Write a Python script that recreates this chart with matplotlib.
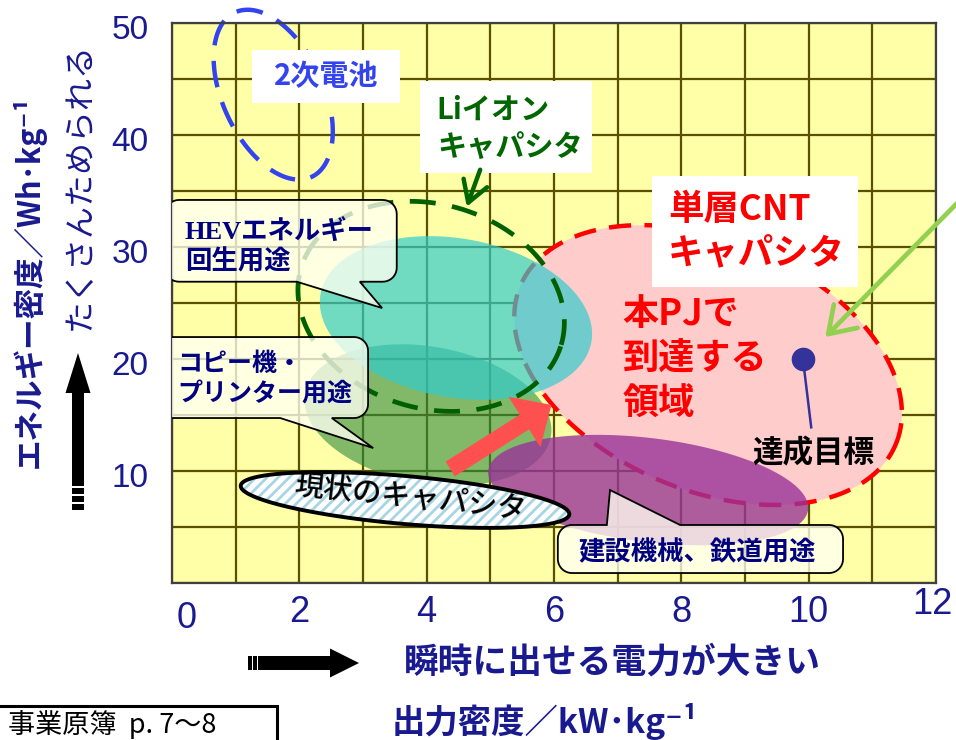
import numpy as np
import matplotlib
matplotlib.use("Agg")
import matplotlib.pyplot as plt
from matplotlib.patches import Polygon, Rectangle, FancyArrowPatch
from matplotlib.transforms import Affine2D, ScaledTranslation

plt.rcParams['font.family'] = ['Noto Sans CJK JP', 'DejaVu Sans']
plt.rcParams['hatch.linewidth'] = 2.0

# ---------------- data ----------------
x_ticks = [0, 2, 4, 6, 8, 10, 12]
x_tick_labels = ['0', '2', '4', '6', '8', '10', '12']
y_ticks = [10, 20, 30, 40, 50]
y_tick_labels = ['10', '20', '30', '40', '50']

# regions: centre (power density, energy density), half-extents, visual tilt (deg)
battery = dict(cx=1.59, cy=43.6, rx=0.79, ry=8.1, tilt=25)
li_ion = dict(cx=4.07, cy=24.7, rx=2.13, ry=9.1, tilt=-16.5)
hev = dict(cx=4.46, cy=23.66, rx=2.16, ry=7.1, tilt=-10)
copier = dict(cx=4.02, cy=15.0, rx=1.96, ry=6.1, tilt=-10)
construction = dict(cx=7.48, cy=8.3, rx=2.53, ry=4.64, tilt=-7)
cnt = dict(cx=8.42, cy=19.46, rx=3.2, ry=11.16, tilt=-23)
current = dict(cx=3.66, cy=7.41, rx=2.59, ry=2.14, tilt=-5)

target_x = [9.91]
target_y = [20.0]

NAVY = '#1A1A90'

fig = plt.figure(figsize=(9.56, 7.40), dpi=100)
W, H = 956, 740
ax = fig.add_axes([172 / W, 1 - 583 / H, (936 - 172) / W, (583 - 23) / H])
ax.set_xlim(0, 12)
ax.set_ylim(0, 50)
ax.set_facecolor('#FFFFA8')

ax.set_xticks(x_ticks)
ax.set_xticklabels(x_tick_labels)
ax.set_xticks(np.arange(0, 13, 1), minor=True)
ax.set_yticks(y_ticks)
ax.set_yticklabels(y_tick_labels)
ax.set_yticks(np.arange(0, 51, 5), minor=True)
ax.grid(True, which='both', color='#5A5000', lw=1.6, zorder=0.5)
ax.set_axisbelow(True)
ax.tick_params(which='both', length=0)
ax.tick_params(axis='y', pad=17, labelsize=24, labelcolor=NAVY)
ax.tick_params(axis='x', pad=9, labelsize=26, labelcolor=NAVY)
for lab in ax.get_yticklabels():
    lab.set_family(['Liberation Sans', 'DejaVu Sans'])
    lab.set_transform(lab.get_transform() + ScaledTranslation(0, -4 / 100, fig.dpi_scale_trans))
for lab in ax.get_xticklabels():
    lab.set_family(['Liberation Sans Narrow', 'Liberation Sans', 'DejaVu Sans'])
xl = ax.get_xticklabels()
xl[0].set_transform(xl[0].get_transform() + ScaledTranslation(15 / 100, -5 / 100, fig.dpi_scale_trans))
xl[-1].set_transform(xl[-1].get_transform() + ScaledTranslation(-4 / 100, 8 / 100, fig.dpi_scale_trans))
for s in ax.spines.values():
    s.set_color('#404040')
    s.set_linewidth(1.6)


def ellipse_pts(r, n=300):
    t = np.linspace(0, 2 * np.pi, n)
    c = ax.transData.transform((r['cx'], r['cy']))
    sx = ax.transData.transform((r['cx'] + 1, r['cy']))[0] - c[0]
    sy = ax.transData.transform((r['cx'], r['cy'] + 1))[1] - c[1]
    u = r['rx'] * sx * np.cos(t)
    v = r['ry'] * sy * np.sin(t)
    a = np.radians(r['tilt'])
    X = c[0] + u * np.cos(a) - v * np.sin(a)
    Y = c[1] + u * np.sin(a) + v * np.cos(a)
    return ax.transData.inverted().transform(np.column_stack([X, Y]))


def callout(x0, x1, y0, y1, tail, side, rad=14, z=6):
    (X0, Y0) = ax.transData.transform((x0, y0))
    (X1, Y1) = ax.transData.transform((x1, y1))
    ta = ax.transData.transform((tail[0], y0 if side == 'bottom' else y1))[0]
    tb = ax.transData.transform((tail[1], y0 if side == 'bottom' else y1))[0]
    tip = ax.transData.transform((tail[2], tail[3]))
    pts = []

    def arc(cx, cy, a0, a1):
        for a in np.linspace(np.radians(a0), np.radians(a1), 10):
            pts.append((cx + rad * np.cos(a), cy + rad * np.sin(a)))
    arc(X0 + rad, Y0 + rad, 180, 270)
    if side == 'bottom':
        pts += [(ta, Y0), (tip[0], tip[1]), (tb, Y0)]
    arc(X1 - rad, Y0 + rad, 270, 360)
    arc(X1 - rad, Y1 - rad, 0, 90)
    if side == 'top':
        pts += [(tb, Y1), (tip[0], tip[1]), (ta, Y1)]
    arc(X0 + rad, Y1 - rad, 90, 180)
    d = ax.transData.inverted().transform(np.array(pts))
    ax.add_patch(Polygon(d, closed=True, facecolor=(1, 1, 0.95, 0.78),
                         edgecolor='black', lw=1.3, zorder=z))


# ---------------- regions ----------------
p = ellipse_pts(cnt)
ax.add_patch(Polygon(p, closed=True, facecolor='#FFCCCC', edgecolor='none', zorder=1))
ax.add_patch(Polygon(p, closed=True, fill=False, edgecolor='#FF0000', lw=3.2,
                     ls=(0, (5, 3)), zorder=1.1))

ax.add_patch(Polygon(ellipse_pts(copier), closed=True, facecolor='#2E8B3E', alpha=0.6,
                     edgecolor='none', zorder=1.2))
ax.add_patch(Polygon(ellipse_pts(hev), closed=True, facecolor='#33CCCC', alpha=0.7,
                     edgecolor='none', zorder=1.3))
ax.add_patch(Polygon(ellipse_pts(construction), closed=True, facecolor='#993399', alpha=0.8,
                     edgecolor='none', zorder=1.4))
ax.add_patch(Polygon(ellipse_pts(li_ion), closed=True, fill=False, edgecolor='#006000', lw=3.4,
                     ls=(0, (5.5, 3.5)), zorder=1.6))
ax.add_patch(Polygon(ellipse_pts(battery), closed=True, fill=False, edgecolor='#3344EE', lw=3.2,
                     ls=(0, (6, 3.5)), zorder=2, clip_on=False))

pc = ellipse_pts(current)
ax.add_patch(Polygon(pc, closed=True, facecolor='white', edgecolor='#A8D4E4', lw=0,
                     hatch='///', zorder=2.5))
ax.add_patch(Polygon(pc, closed=True, fill=False, edgecolor='black', lw=2.8, zorder=2.6))
ax.text(3.74, 7.7, '現状のキャパシタ', fontsize=21, fontweight=500, color='black', rotation=-6,
        rotation_mode='anchor', ha='center', va='center', zorder=2.7)

# red progress arrow
ax.add_patch(FancyArrowPatch((4.37, 10.18), (5.96, 15.9),
                             arrowstyle='simple,tail_width=12.5,head_width=43,head_length=23',
                             mutation_scale=1, color='#FF5050', lw=0, zorder=3,
                             shrinkA=0, shrinkB=0))

# target point
ax.plot([target_x[0], 10.04], [target_y[0], 13.9], color='#333399', lw=1.8, zorder=4)
ax.plot(target_x, target_y, 'o', color='#333399', ms=16, zorder=4.1)
ax.text(10.07, 11.6, '達成目標', fontsize=22, fontweight='bold', color='black',
        ha='center', va='center', zorder=5)

# white labels
ax.add_patch(Rectangle((1.26, 42.9), 2.32, 4.7, facecolor='white', edgecolor='none', zorder=5))
ax.text(2.42, 45.27, '2次電池', fontsize=21, fontweight='bold', color='#3344EE',
        ha='center', va='center', zorder=5.1)
ax.add_patch(Rectangle((3.90, 36.6), 2.70, 8.2, facecolor='white', edgecolor='none', zorder=5))
ax.text(4.16, 40.6, 'Liイオン\nキャパシタ', fontsize=21, fontweight='bold', color='#006600',
        ha='left', va='center', linespacing=1.28, zorder=5.1)
ax.add_patch(Rectangle((7.54, 26.4), 3.23, 9.9, facecolor='white', edgecolor='none', zorder=5))
ax.text(7.79, 31.4, '単層CNT\nキャパシタ', fontsize=25.5, fontweight='bold', color='#FF0000',
        ha='left', va='center', linespacing=1.3, zorder=5.1)
ax.text(7.08, 20.0, '本PJで\n到達する\n領域', fontsize=26, fontweight='bold', color='#FF0000',
        ha='left', va='center', linespacing=1.27, zorder=5.1)

# arrows inside plot
ax.add_patch(FancyArrowPatch((4.84, 36.9), (4.63, 33.6),
                             arrowstyle='->,head_length=1.5,head_width=0.9', mutation_scale=10,
                             color='#006600', lw=3.2, zorder=5, shrinkA=0, shrinkB=0))
ax.add_patch(FancyArrowPatch((12.45, 34.6), (10.26, 21.96),
                             arrowstyle='->,head_length=1.8,head_width=1.2', mutation_scale=10,
                             color='#92D050', lw=3.4, zorder=5, shrinkA=0, shrinkB=0,
                             clip_on=False))

# callouts
callout(-0.11, 3.53, 26.9, 34.2, (1.96, 2.95, 3.30, 24.55), 'bottom')
ax.text(0.20, 29.96, 'HEVエネルギー\n回生用途', fontsize=19, fontweight='bold', color='#000080',
        family=['Liberation Serif', 'Noto Sans CJK JP'], ha='left', va='center',
        linespacing=1.2, zorder=7)
callout(-0.22, 3.08, 14.73, 21.96, (1.70, 2.51, 3.16, 12.05), 'bottom')
ax.text(0.08, 18.17, 'コピー機・\nプリンター用途', fontsize=18, fontweight='bold', color='#000080',
        ha='left', va='center', linespacing=1.35, zorder=7)
callout(6.06, 10.54, 0.89, 5.18, (6.83, 7.98, 6.88, 8.30), 'top')
ax.text(8.25, 2.68, '建設機械、鉄道用途', fontsize=19, fontweight='bold', color='#000080',
        ha='center', va='center', zorder=7)

# ---------------- outer labels ----------------
fig.text(28.5 / W, 1 - 282 / H, 'エネルギー密度／Wh･kg⁻¹', rotation=90, fontsize=22,
         fontweight='bold', color=NAVY, ha='center', va='center')
fig.text(80 / W, 1 - 186 / H, 'たくさんためられる', rotation=90, fontsize=23,
         color=NAVY, ha='center', va='center')
fig.text(612 / W, 1 - 662 / H, '瞬時に出せる電力が大きい', fontsize=25, fontweight='bold',
         color=NAVY, ha='center', va='center')
fig.text(545 / W, 1 - 721 / H, '出力密度／kW･kg⁻¹', fontsize=24, fontweight='bold',
         color=NAVY, ha='center', va='center')

pix = Affine2D().scale(1 / W, -1 / H).translate(0, 1) + fig.transFigure
# up arrow
fig.patches.append(Polygon([(72, 510), (84, 510), (84, 393), (90.5, 393), (78, 353),
                            (65.5, 393), (72, 393)], closed=True, facecolor='black',
                           edgecolor='none', transform=pix, figure=fig))
for yy in (487, 495, 502.5):
    fig.patches.append(Rectangle((71, yy - 1), 14, 2, facecolor='white', edgecolor='none',
                                 transform=pix, figure=fig))
# right arrow
fig.patches.append(Polygon([(248, 656), (330, 656), (330, 648.5), (359, 663), (330, 677.5),
                            (330, 670), (248, 670)], closed=True, facecolor='black',
                           edgecolor='none', transform=pix, figure=fig))
for xx in (252.5, 257.5):
    fig.patches.append(Rectangle((xx - 0.8, 655), 1.6, 16, facecolor='white', edgecolor='none',
                                 transform=pix, figure=fig))
# source box
fig.patches.append(Rectangle((-3, 706), 280, 40, facecolor='white', edgecolor='black', lw=2.2,
                             transform=pix, figure=fig))
fig.text(8 / W, 1 - 724 / H, '事業原簿  p. 7～8', fontsize=19.5, color='black',
         ha='left', va='center')

fig.savefig('out.png', dpi=100)
